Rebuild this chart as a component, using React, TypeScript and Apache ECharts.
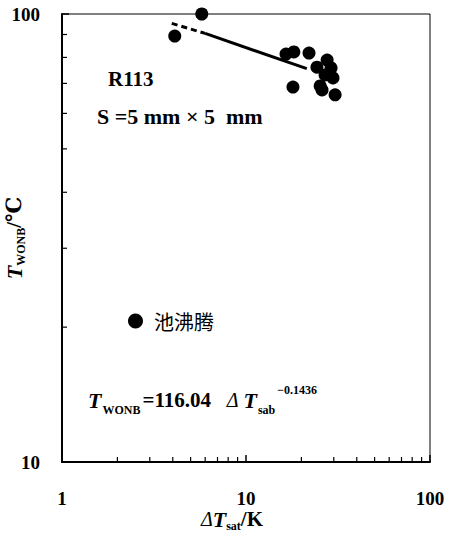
import React, { useEffect, useRef } from "react";
import * as echarts from "echarts";

const poolBoiling: number[][] = [
  [4.1, 89.3], [5.75, 100], [16.5, 81.4], [18.2, 82.3], [22.0, 81.8],
  [27.6, 78.9], [24.3, 76.1], [29.0, 75.8], [26.9, 73.1], [29.7, 72.0],
  [25.3, 69.1], [30.5, 66.0], [18.0, 68.7], [25.9, 67.7],
];
const fitDashed: number[][] = [[3.95, 95.3], [6.0, 90.5]];
const fitSolid: number[][] = [[6.0, 90.5], [21.4, 75.5]];
const xMinorTicks = [2, 3, 4, 5, 6, 7, 8, 9, 20, 30, 40, 50, 60, 70, 80, 90];
const yMinorTicks = [20, 30, 40, 50, 60, 70, 80, 90];
const xRange = [1, 100];
const yRange = [10, 100];

const SERIF = "'Liberation Serif', 'DejaVu Serif', serif";
const CJK = "'Noto Sans CJK SC', 'Noto Sans', sans-serif";

export default function App() {
  const ref = useRef<HTMLDivElement>(null);
  useEffect(() => {
    document.body.style.margin = "0";
    const chart = echarts.init(ref.current!, null, { renderer: "svg" });
    const richCommon = {
      t: { fontFamily: SERIF, fontWeight: "bold", fontStyle: "italic", fontSize: 22, color: "#000", lineHeight: 26 },
      s: { fontFamily: SERIF, fontWeight: "bold", fontSize: 12, color: "#000", verticalAlign: "bottom", lineHeight: 21 },
      n: { fontFamily: SERIF, fontWeight: "bold", fontSize: 21, color: "#000", lineHeight: 26 },
      d: { fontFamily: SERIF, fontStyle: "italic", fontSize: 20, color: "#000", lineHeight: 26 },
    };
    chart.setOption({
      animation: false,
      backgroundColor: "#fff",
      grid: {
        left: 62, top: 14, width: 368, height: 448, show: true, borderColor: "#000", borderWidth: 1,
        containLabel: false, outerBoundsMode: "none",
      },
      legend: {
        data: ["池沸腾"],
        left: 123,
        top: 306,
        icon: "circle",
        itemWidth: 15,
        itemHeight: 15,
        textStyle: { fontFamily: CJK, fontSize: 20, color: "#000", padding: [0, 0, 0, 6] },
      },
      xAxis: {
        type: "log",
        logBase: 10,
        min: xRange[0],
        max: xRange[1],
        axisLine: { lineStyle: { color: "#000", width: 2 } },
        axisTick: { inside: true, length: 7, lineStyle: { color: "#000", width: 1.5 } },
        splitLine: { show: false },
        axisLabel: { fontFamily: SERIF, fontWeight: "bold", fontSize: 19, color: "#000", margin: 27 },
        name: "{d|Δ}{t|T}{s|sat}{n|/K}",
        nameLocation: "middle",
        nameGap: 44,
        nameMoveOverlap: false,
        nameTextStyle: { rich: richCommon, padding: [0, 28, 0, 0] },
      },
      yAxis: {
        type: "log",
        logBase: 10,
        min: yRange[0],
        max: yRange[1],
        axisLine: { lineStyle: { color: "#000", width: 2 } },
        axisTick: { inside: true, length: 7, lineStyle: { color: "#000", width: 1.5 } },
        splitLine: { show: false },
        axisLabel: { fontFamily: SERIF, fontWeight: "bold", fontSize: 19, color: "#000", margin: 22 },
        name: "{t|T}{s|WONB}{n|/℃}",
        nameLocation: "middle",
        nameRotate: 90,
        nameGap: 35,
        nameMoveOverlap: false,
        nameTextStyle: { rich: richCommon },
      },
      graphic: [
        {
          type: "text",
          left: 108,
          top: 68,
          style: { text: "R113", font: `bold 21px ${SERIF}`, fill: "#000" },
        },
        {
          type: "text",
          left: 97,
          top: 105,
          style: { text: "S =5 mm × 5  mm", font: `bold 22px ${SERIF}`, fill: "#000" },
        },
        {
          type: "text",
          left: 88,
          top: 384,
          style: {
            text: "{t|T}{s|WONB}{n|=116.04   }{d|Δ }{t|T}{s|sab}{p|−0.1436}",
            rich: {
              t: { fontFamily: SERIF, fontWeight: "bold", fontStyle: "italic", fontSize: 22, fill: "#000", lineHeight: 32 },
              s: { fontFamily: SERIF, fontWeight: "bold", fontSize: 12, fill: "#000", verticalAlign: "bottom", lineHeight: 25, padding: [0, 2, 0, 1] },
              n: { fontFamily: SERIF, fontWeight: "bold", fontSize: 21, fill: "#000", lineHeight: 32 },
              d: { fontFamily: SERIF, fontStyle: "italic", fontSize: 20, fill: "#000", lineHeight: 32 },
              p: { fontFamily: SERIF, fontWeight: "bold", fontSize: 12, fill: "#000", verticalAlign: "top", lineHeight: 14 },
            },
          },
        },
      ],
      series: [
        {
          name: "池沸腾",
          type: "scatter",
          data: poolBoiling,
          symbol: "circle",
          symbolSize: 13,
          itemStyle: { color: "#000", opacity: 1 },
          z: 5,
        },
        {
          name: "fitDashed",
          type: "line",
          data: fitDashed,
          showSymbol: false,
          lineStyle: { color: "#000", width: 3, type: [6, 4] },
        },
        {
          name: "fitSolid",
          type: "line",
          data: fitSolid,
          showSymbol: false,
          lineStyle: { color: "#000", width: 3 },
        },
        {
          name: "xMinor",
          type: "custom",
          silent: true,
          clip: false,
          data: xMinorTicks.map((v) => [v, yRange[0]]),
          renderItem: (_p: any, api: any) => {
            const pt = api.coord([api.value(0), api.value(1)]);
            return {
              type: "line",
              shape: { x1: pt[0], y1: pt[1], x2: pt[0], y2: pt[1] - 5 },
              style: { stroke: "#000", lineWidth: 1.2 },
            };
          },
        },
        {
          name: "yMinor",
          type: "custom",
          silent: true,
          clip: false,
          data: yMinorTicks.map((v) => [xRange[0], v]),
          renderItem: (_p: any, api: any) => {
            const pt = api.coord([api.value(0), api.value(1)]);
            return {
              type: "line",
              shape: { x1: pt[0], y1: pt[1], x2: pt[0] + 5, y2: pt[1] },
              style: { stroke: "#000", lineWidth: 1.2 },
            };
          },
        },
      ],
    });
    return () => chart.dispose();
  }, []);
  return <div ref={ref} style={{ width: 450, height: 535 }} />;
}
